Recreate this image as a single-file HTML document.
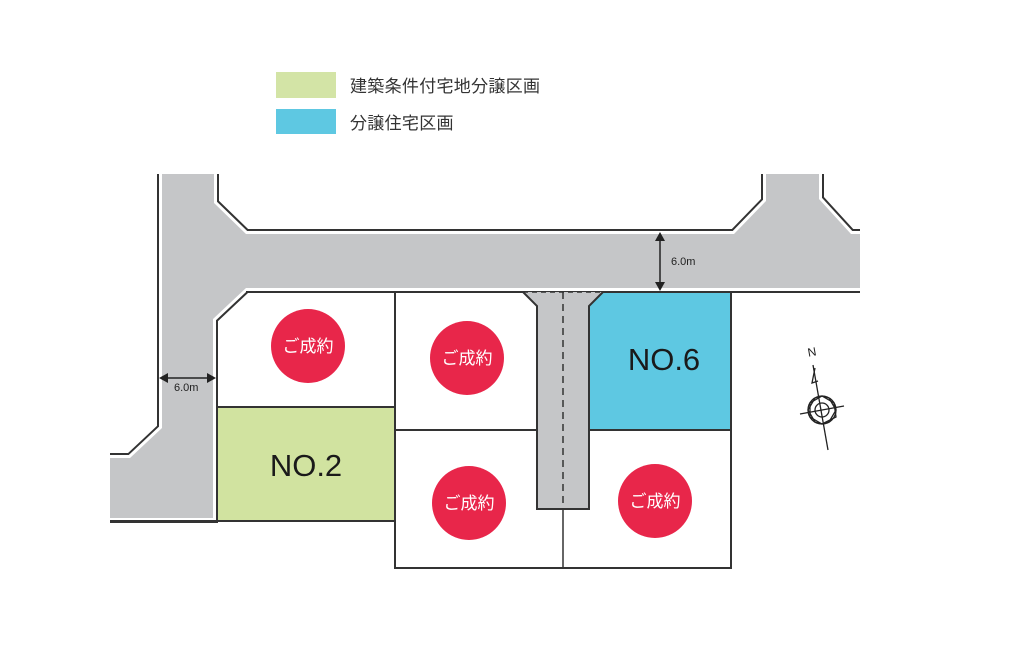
<!DOCTYPE html>
<html><head><meta charset="utf-8"><style>
html,body{margin:0;padding:0;background:#fff;}
svg{display:block;}
text{font-family:"Liberation Sans","Noto Sans CJK JP",sans-serif;}
</style></head><body>
<svg width="1024" height="655" viewBox="0 0 1024 655" xmlns="http://www.w3.org/2000/svg">
<defs><clipPath id="c"><rect x="110" y="174" width="750" height="481"/></clipPath></defs>
<rect width="1024" height="655" fill="#fff"/>
<!-- legend -->
<rect x="276" y="72" width="60" height="26" fill="#d3e4a6"/>
<rect x="276" y="109" width="60" height="25" fill="#5ec8e2"/>
<text x="350" y="92" font-size="17" fill="#333" letter-spacing="0.3">建築条件付宅地分譲区画</text>
<text x="350" y="129" font-size="17" fill="#333" letter-spacing="0.3">分譲住宅区画</text>
<!-- lots fill -->
<rect x="216" y="407" width="179" height="114" fill="#d1e3a0"/>
<polygon points="603,292 589,306 589,430 731,430 731,292" fill="#5ec8e2"/>
<!-- road -->
<g clip-path="url(#c)">
<polygon points="162,160 214,160 214,203 246,234 734,234 766,201 766,160 819,160 819,199 851,234 880,234 880,288 246,288 213,319 213,518 90,518 90,458 130,458 162,428" fill="#c5c6c8" stroke="#333" stroke-width="10" stroke-linejoin="miter"/>
<polygon points="162,160 214,160 214,203 246,234 734,234 766,201 766,160 819,160 819,199 851,234 880,234 880,288 246,288 213,319 213,518 90,518 90,458 130,458 162,428" fill="none" stroke="#fff" stroke-width="6"/>
<polygon points="162,160 214,160 214,203 246,234 734,234 766,201 766,160 819,160 819,199 851,234 880,234 880,288 246,288 213,319 213,518 90,518 90,458 130,458 162,428" fill="#c5c6c8"/>
</g>
<!-- stem road -->
<polygon points="523,292 537,306 537,509 589,509 589,306 603,292" fill="#c5c6c8"/>
<polyline points="523,292 537,306 537,509 589,509 589,306 603,292" fill="none" stroke="#333" stroke-width="2"/>
<line x1="523" y1="292" x2="603" y2="292" stroke="#333" stroke-width="1.5" stroke-dasharray="5,4"/>
<line x1="563" y1="292" x2="563" y2="509" stroke="#333" stroke-width="1.5" stroke-dasharray="7,5"/>
<line x1="563" y1="509" x2="563" y2="568" stroke="#333" stroke-width="1.5"/>
<!-- lot lines -->
<g stroke="#333" stroke-width="2" fill="none">
<line x1="395" y1="292" x2="395" y2="568"/>
<line x1="216" y1="407" x2="395" y2="407"/>
<line x1="395" y1="430" x2="537" y2="430"/>
<line x1="589" y1="430" x2="731" y2="430"/>
<line x1="731" y1="291" x2="731" y2="568"/>
<line x1="394" y1="568" x2="732" y2="568"/>
<line x1="110" y1="521" x2="395" y2="521"/>
<line x1="246" y1="292" x2="523" y2="292"/>
<line x1="603" y1="292" x2="731" y2="292"/>
</g>
<!-- circles -->
<g fill="#e8264a">
<circle cx="308" cy="346" r="37"/>
<circle cx="467" cy="358" r="37"/>
<circle cx="469" cy="503" r="37"/>
<circle cx="655" cy="501" r="37"/>
</g>
<g fill="#fff" font-size="17" text-anchor="middle">
<text x="308" y="352">ご成約</text>
<text x="467" y="364">ご成約</text>
<text x="469" y="509">ご成約</text>
<text x="655" y="507">ご成約</text>
</g>
<text x="306" y="476" font-size="31" text-anchor="middle" fill="#1a1a1a">NO.2</text>
<text x="664" y="370" font-size="31" text-anchor="middle" fill="#1a1a1a">NO.6</text>
<!-- dimensions -->
<g stroke="#222" stroke-width="1.5" fill="#222">
<line x1="660" y1="238" x2="660" y2="285"/>
<polygon points="660,232 655,241 665,241" stroke="none"/>
<polygon points="660,291 655,282 665,282" stroke="none"/>
<line x1="165" y1="378" x2="210" y2="378"/>
<polygon points="159,378 168,373 168,383" stroke="none"/>
<polygon points="216,378 207,373 207,383" stroke="none"/>
</g>
<text x="671" y="265" font-size="11" fill="#222" font-family="Liberation Serif,serif">6.0m</text>
<text x="174" y="391" font-size="11" fill="#222" font-family="Liberation Serif,serif">6.0m</text>
<!-- compass -->
<g stroke="#222" stroke-width="1.3" fill="none">
<line x1="813" y1="365" x2="828" y2="450"/>
<circle cx="822" cy="410" r="14"/>
<circle cx="822" cy="410" r="7"/>
<line x1="800" y1="414" x2="844" y2="406"/>
<polyline points="815,368 812,383 818,381"/>
<path d="M808,410 L815,398 L822,396 L829,398 L836,410 L829,422 L822,424 L815,422 Z"/>
<path d="M810,403 L822,396 L834,403 L836,417 L822,424 L810,417 Z"/>
</g>
<text x="812" y="356" font-size="12" fill="#222" transform="rotate(-10 812 352)" text-anchor="middle">N</text>
</svg>
</body></html>
